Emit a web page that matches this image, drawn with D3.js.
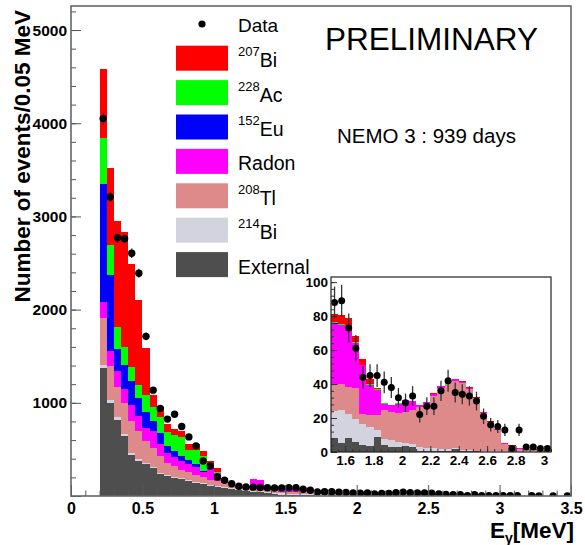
<!DOCTYPE html>
<html>
  <head>
    <meta charset="utf-8">
    <title>NEMO 3 gamma spectrum</title>
    <script src="https://cdn.jsdelivr.net/npm/d3@7"></script>
    <style>
      body { margin: 0; background: #fff; }
      svg { display: block; font-family: "Liberation Sans", Arial, sans-serif; }
    </style>
  </head>
  <body>
    <svg id="chart" width="585" height="545"></svg>
    <script>
      // histogram bins: 0.05 MeV wide, first one starts at 0.2 MeV
      const binWidth = 0.05;
      const firstBin = 0.2;

      // stacked background components, bottom to top (events per bin)
      const external = [
        1375, 1000, 820, 640, 440, 380, 340, 300, 235, 215, 195, 180, 160, 140, 125, 110, 95, 85, 72, 60, 52, 45, 38, 30, 20, 12,
        8, 5.5, 8.2, 6, 4, 3.5, 8.6, 4, 3, 3.2, 3.4, 3, 0.5, 0.4, 0.4, 0.4, 0.6, 1.5, 0.4, 0.3, 0.3, 0.2, 0.2, 0.2, 0.1, 0.1, 0.1, 0.1, 0.1, 0.1, 0.1,
        0.1, 0.1, 0.1, 0.1, 0.1, 0.1, 0.1, 0.1, 0.1];
      const bi214 = [
        30, 28, 25, 22, 20, 18, 17, 16, 15, 15, 14, 14, 13, 13, 13, 12, 12, 12, 12, 12, 12, 12, 13, 14, 15, 16,
        16, 19, 14.3, 13.6, 12.7, 11.2, 4.1, 3.8, 3.9, 2.7, 1.9, 1.5, 2.5, 2.2, 1.8, 1.5, 1.0, 0.7, 0.8, 0.7, 0.5, 0.4, 0.3, 0.2, 0.2, 0.2, 0.2, 0.2, 0.2, 0.1, 0.1,
        0.1, 0.1, 0.1, 0.1, 0.1, 0.1, 0.1, 0.1, 0.1];
      const tl208 = [
        505, 372, 325, 340, 350, 300, 235, 200, 180, 125, 110, 90, 85, 75, 65, 55, 50, 45, 30, 23, 20, 19, 18, 17, 16, 16,
        15.5, 15.5, 15.5, 17.9, 5.8, 6.8, 8.8, 16.7, 16.6, 17.1, 18.2, 20.5, 23.5, 25.9, 30.8, 35.6, 39.4, 39.8, 39.3, 36, 30.7, 22.4, 17, 12.6, 4.7, 3.2, 1.7, 1.2, 0.9, 0.8, 0.8,
        0.8, 0.7, 0.6, 0.5, 0.5, 0.4, 0.4, 0.3, 0.3];
      const radon = [
        167, 160, 175, 150, 170, 160, 140, 180, 130, 110, 100, 95, 85, 80, 50, 110, 85, 30, 25, 20, 19, 108, 101, 34, 37, 39,
        36, 34.5, 35.5, 26.5, 28.5, 18, 15, 4, 4, 5.5, 7, 5, 1, 1, 1.3, 1.3, 0.8, 0.8, 0.8, 0.8, 0.5, 0.4, 0.4, 0.4, 0.2, 0.2, 0.2, 0.2, 0.2, 0.2, 0.1,
        0.1, 0.1, 0.1, 0.1, 0.1, 0.1, 0.1, 0.1, 0.1];
      const eu152 = [
        1274, 810, 235, 250, 250, 190, 170, 110, 120, 70, 60, 55, 45, 40, 20, 15, 10, 5, 2, 1, 1, 0, 0, 0, 0, 0,
        0.2, 0.2, 0.2, 0.1, 0.1, 0.1, 0.1, 0, 0, 0, 0, 0, 0, 0, 0, 0, 0, 0, 0, 0, 0, 0, 0, 0, 0, 0, 0, 0, 0, 0, 0,
        0, 0, 0, 0, 0, 0, 0, 0, 0];
      const ac228 = [
        494, 320, 230, 200, 150, 140, 180, 150, 170, 150, 180, 200, 110, 150, 160, 30, 10, 5, 2, 1, 0, 1, 1, 1, 1, 1,
        0.6, 0.6, 0.5, 0.4, 0.3, 0.3, 0.2, 0.1, 0.1, 0.1, 0.1, 0.1, 0.1, 0.1, 0.1, 0.1, 0.1, 0.1, 0.1, 0, 0, 0, 0, 0, 0, 0, 0, 0, 0, 0, 0,
        0, 0, 0, 0, 0, 0, 0, 0, 0];
      const bi207 = [
        734, 830, 1136, 1230, 1111, 916, 508, 124, 100, 86, 58, 65, 58, 62, 51, 48, 38, 8, 2, 1, 1, 1, 1, 1, 1, 2,
        4.7, 5.2, 4.8, 3.5, 3.1, 3.1, 0.7, 0.2, 0.1, 0.1, 0.1, 0.1, 0.2, 0.1, 0.1, 0.1, 0.1, 0.1, 0.1, 0.2, 0.2, 0.2, 0.2, 0.2, 0.2, 0.2, 0.2, 0.2, 0.2, 0.2, 0.2,
        0.2, 0.2, 0.2, 0.2, 0.2, 0.2, 0.2, 0.2, 0.2];

      // measured events per bin
      const dataCounts = [
        4050, 3208, 2771, 2760, 2605, 2390, 1713, 1136, 939, 825, 878, 745, 634, 538, 376, 322, 204, 169, 132, 104, 97, 95, 92, 88, 86, 87,
        88, 89, 73, 61, 44, 45, 45, 41, 38, 32, 29, 33, 22, 27, 27, 36, 42, 35, 34, 33, 30, 21, 16, 15, 13, 2, 13, 3, 3, 2, 2,
        3, 2, 0, 2, 1, 0, 1, 0, 1];

      const xTicks = [0, 0.5, 1, 1.5, 2, 2.5, 3, 3.5];
      const yTicks = [0, 1000, 2000, 3000, 4000, 5000];
      const insetXTicks = [1.6, 1.8, 2, 2.2, 2.4, 2.6, 2.8, 3];
      const insetYTicks = [0, 20, 40, 60, 80, 100];

      const keys = ["external", "bi214", "tl208", "radon", "eu152", "ac228", "bi207"];
      const series = { external, bi214, tl208, radon, eu152, ac228, bi207 };
      const colors = {
        external: "#4e4e4e", bi214: "#d3d3e0", tl208: "#de8a8a", radon: "#ff00ff",
        eu152: "#0000ff", ac228: "#00ff00", bi207: "#ff0000"
      };
      // legend, top entry first
      const legendItems = [
        { key: "bi207", sup: "207", name: "Bi" },
        { key: "ac228", sup: "228", name: "Ac" },
        { key: "eu152", sup: "152", name: "Eu" },
        { key: "radon", sup: "", name: "Radon" },
        { key: "tl208", sup: "208", name: "Tl" },
        { key: "bi214", sup: "214", name: "Bi" },
        { key: "external", sup: "", name: "External" }
      ];

      const svg = d3.select("#chart");
      const fmt = d3.format("~g");

      const binStart = dataCounts.map((d, i) => firstBin + i * binWidth);
      const rows = binStart.map((b, i) => {
        const r = { x0: b, n: dataCounts[i] };
        keys.forEach(k => r[k] = series[k][i]);
        return r;
      });
      const stacked = d3.stack().keys(keys)(rows);

      function drawHist(g, xs, ys, keep) {
        g.selectAll("g.layer")
          .data(stacked)
          .join("g")
            .attr("class", "layer")
            .attr("fill", d => colors[d.key])
          .selectAll("rect")
          .data(d => d.filter(p => keep(p.data.x0)))
          .join("rect")
            .attr("shape-rendering", "crispEdges")
            .attr("x", p => xs(p.data.x0))
            .attr("width", p => xs(p.data.x0 + binWidth) - xs(p.data.x0))
            .attr("y", p => ys(p[1]))
            .attr("height", p => Math.max(0, ys(p[0]) - ys(p[1])));
      }

      function drawData(g, xs, ys, keep, r) {
        const pts = rows.filter(d => d.n > 0 && keep(d.x0));
        g.selectAll("line.err")
          .data(pts)
          .join("line")
            .attr("class", "err")
            .attr("x1", d => xs(d.x0 + binWidth / 2))
            .attr("x2", d => xs(d.x0 + binWidth / 2))
            .attr("y1", d => ys(d.n + Math.sqrt(d.n)))
            .attr("y2", d => ys(Math.max(0, d.n - Math.sqrt(d.n))))
            .attr("stroke", "#333")
            .attr("stroke-width", 1.3);
        g.selectAll("circle")
          .data(pts)
          .join("circle")
            .attr("cx", d => xs(d.x0 + binWidth / 2))
            .attr("cy", d => ys(d.n))
            .attr("r", r)
            .attr("fill", "#000");
      }

      function styleAxis(g, size, color) {
        g.select(".domain").remove();
        g.attr("color", color);
        g.selectAll("text")
          .attr("fill", "#000")
          .attr("font-family", '"Liberation Sans", Arial, sans-serif')
          .attr("font-weight", "bold")
          .attr("font-size", size);
      }

      // ---- main frame
      const x = d3.scaleLinear().domain([0, 3.5]).range([71, 571]);
      const y = d3.scaleLinear().domain([0, 5258]).range([496, 6]);

      svg.append("clipPath").attr("id", "mainClip")
        .append("rect").attr("x", 71).attr("y", 6).attr("width", 500).attr("height", 490);

      const main = svg.append("g").attr("clip-path", "url(#mainClip)");
      drawHist(main, x, y, b => true);
      drawData(main, x, y, b => true, 3.7);

      svg.append("g")
        .attr("transform", "translate(0,496)")
        .call(d3.axisBottom(x).tickValues(d3.range(0, 3.51, 0.1)).tickSize(-5.5).tickFormat(""))
        .call(g => styleAxis(g, 16, "#555"));
      svg.append("g")
        .attr("transform", "translate(0,496)")
        .call(d3.axisBottom(x).tickValues(xTicks).tickSize(-11).tickPadding(7).tickFormat(fmt))
        .call(g => styleAxis(g, 16, "#555"));
      svg.append("g")
        .attr("transform", "translate(71,0)")
        .call(d3.axisLeft(y).tickValues(d3.range(0, 5201, 200)).tickSize(-5).tickFormat(""))
        .call(g => styleAxis(g, 16, "#555"));
      svg.append("g")
        .attr("transform", "translate(71,0)")
        .call(d3.axisLeft(y).tickValues(yTicks).tickSize(-10).tickPadding(4).tickFormat(d => d === 0 ? "" : d))
        .call(g => styleAxis(g, 15.5, "#555"));

      svg.append("rect")
        .attr("x", 71).attr("y", 6).attr("width", 500).attr("height", 490)
        .attr("fill", "none").attr("stroke", "#666").attr("stroke-width", 1.6);

      // axis titles
      svg.append("text")
        .attr("transform", "translate(30,10) rotate(-90)")
        .attr("text-anchor", "end")
        .attr("font-weight", "bold")
        .attr("font-size", 22.5)
        .text("Number of events/0.05 MeV");

      const xt = svg.append("text")
        .attr("x", 574).attr("y", 538)
        .attr("text-anchor", "end")
        .attr("font-weight", "bold")
        .attr("font-size", 22.5);
      xt.append("tspan").text("E");
      xt.append("tspan").attr("font-size", 14).attr("dy", 5).text("\u03b3");
      xt.append("tspan").attr("dy", -5).text("[MeV]");

      // ---- legend
      const legend = svg.append("g");
      legend.append("circle").attr("cx", 202).attr("cy", 24).attr("r", 3.6).attr("fill", "#000");
      legend.append("text").attr("x", 238).attr("y", 32).attr("font-size", 19).text("Data");
      legendItems.forEach((it, k) => {
        const top = 45.7 + k * 34.4;
        legend.append("rect")
          .attr("x", 176).attr("y", top).attr("width", 52).attr("height", 25)
          .attr("fill", colors[it.key]);
        const t = legend.append("text").attr("x", 238).attr("y", top + 21.5).attr("font-size", 19.5);
        if (it.sup) {
          t.append("tspan").attr("font-size", 13).attr("dy", -11).text(it.sup);
          t.append("tspan").attr("dy", 11).text(it.name);
        } else {
          t.text(it.name);
        }
      });

      svg.append("text").attr("x", 325).attr("y", 50).attr("font-size", 31.5).text("PRELIMINARY");
      svg.append("text").attr("x", 337).attr("y", 143).attr("font-size", 20.5).text("NEMO 3 : 939 days");

      // ---- inset zoom on the high energy tail
      const xi = d3.scaleLinear().domain([1.5, 3.05]).range([331, 551]);
      const yi = d3.scaleLinear().domain([0, 103]).range([452, 277]);
      const inInset = b => b > 1.5 - 1e-9 && b < 3.05 - 1e-9;

      svg.append("rect")
        .attr("x", 331).attr("y", 277).attr("width", 220).attr("height", 175)
        .attr("fill", "#fff");
      svg.append("clipPath").attr("id", "insetClip")
        .append("rect").attr("x", 331).attr("y", 277).attr("width", 220).attr("height", 175);
      const inset = svg.append("g").attr("clip-path", "url(#insetClip)");
      drawHist(inset, xi, yi, inInset);
      drawData(inset, xi, yi, inInset, 3.5);

      svg.append("g")
        .attr("transform", "translate(0,452)")
        .call(d3.axisBottom(xi).tickValues(d3.range(1.5, 3.051, 0.05)).tickSize(-3).tickFormat(""))
        .call(g => styleAxis(g, 13, "#333"));
      svg.append("g")
        .attr("transform", "translate(0,452)")
        .call(d3.axisBottom(xi).tickValues(insetXTicks).tickSize(-6).tickPadding(3).tickFormat(fmt))
        .call(g => styleAxis(g, 13.5, "#333"));
      svg.append("g")
        .attr("transform", "translate(331,0)")
        .call(d3.axisLeft(yi).tickValues(d3.range(0, 101, 4)).tickSize(-3).tickFormat(""))
        .call(g => styleAxis(g, 13, "#333"));
      svg.append("g")
        .attr("transform", "translate(331,0)")
        .call(d3.axisLeft(yi).tickValues(insetYTicks).tickSize(-6).tickPadding(3).tickFormat(fmt))
        .call(g => styleAxis(g, 13.5, "#333"));

      svg.append("rect")
        .attr("x", 331).attr("y", 277).attr("width", 220).attr("height", 175)
        .attr("fill", "none").attr("stroke", "#222").attr("stroke-width", 1.2);
    </script>
  </body>
</html>
